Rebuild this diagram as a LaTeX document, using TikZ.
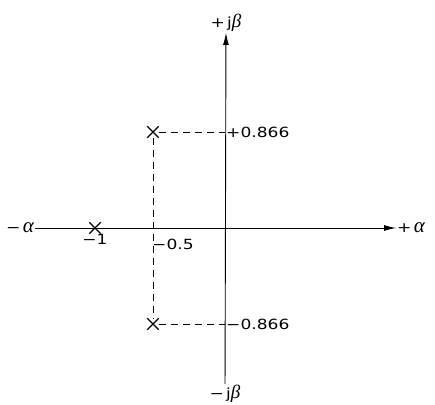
\documentclass[tikz,border=0pt]{standalone}
\usepackage{fontspec}
\setmainfont[FakeStretch=1.22]{DejaVu Sans}
\newfontfamily\grk{Liberation Serif}
\newcommand{\gal}{{\grk\itshape\fontsize{21}{21}\selectfont α}}
\newcommand{\gbe}{{\grk\itshape\fontsize{19}{19}\selectfont β}}
\usetikzlibrary{arrows.meta,shapes.misc}

\begin{document}
\begin{tikzpicture}[x=1pt, y=1pt,
  axis/.style={line width=0.9pt, -{Latex[length=12pt,width=6pt]}},
  guide/.style={line width=0.8pt, dash pattern=on 7pt off 5pt},
  pole/.style={cross out, draw, line width=1.4pt, minimum size=10pt, inner sep=0pt},
  lbl/.style={inner sep=1pt, font=\fontsize{14}{16}\selectfont}]
  \useasboundingbox (-225,-176) rectangle (210,228);

  % axes
  \node[lbl] (ma) at (-205,0) {−\,\gal};
  \node[lbl, anchor=west] (pa) at (171,0) {+\,\gal};
  \node[lbl] (mb) at (0,-166) {−\,j\gbe};
  \node[lbl] (pb) at (1,205) {+\,j\gbe};
  \coordinate (O) at (0,0);
  \draw[axis] (ma) -- (pa);
  \draw[axis] (mb) -- (pb);

  % poles
  \node[pole] (p1) at (-130,0) {};
  \node[pole] (p2) at (-72,96) {};
  \node[pole] (p3) at (-72,-96) {};
  \coordinate (q2) at (0,96);
  \coordinate (q3) at (0,-96);

  % projections
  \draw[guide] (p2) -- (q2);
  \draw[guide] (p3) -- (q3);
  \draw[guide] (p2) -- (p3);

  \node[lbl, below=5pt] (l1) at (p1) {−1};
  \node[lbl, anchor=west] (l5) at (-74,-16) {−0.5};
  \node[lbl, anchor=west] (lu) at (q2) {+0.866};
  \node[lbl, anchor=west] (ld) at (q3) {−0.866};
\end{tikzpicture}
\end{document}
